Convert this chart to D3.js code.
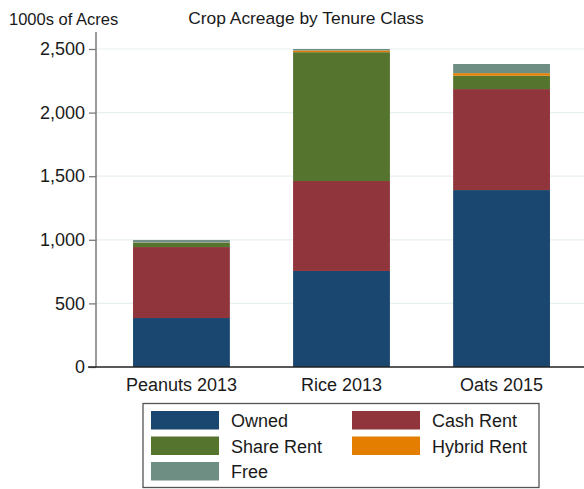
<!DOCTYPE html>
<html>
<head>
<meta charset="utf-8">
<script src="https://cdn.jsdelivr.net/npm/d3@7"></script>
<style>
  body { margin: 0; background: #fff; }
  text { font-family: "Liberation Sans", Arial, sans-serif; fill: #1a1a1a; }
</style>
</head>
<body>
<svg id="chart"></svg>
<script>
// values, 1000s of acres
const crops = ["Peanuts 2013", "Rice 2013", "Oats 2015"];
const classes = ["Owned", "Cash Rent", "Share Rent", "Hybrid Rent", "Free"];
const owned = [385, 755, 1391];
const cashRent = [558, 707, 794];
const shareRent = [32, 1013, 105];
const hybridRent = [3, 13, 20];
const free = [20, 12, 72];
const colors = ["#1a476f", "#90353b", "#55752f", "#e37e00", "#6e8e84"];
const yTicks = [0, 500, 1000, 1500, 2000, 2500];

const W = 584, H = 489;
const svg = d3.select("#chart").attr("width", W).attr("height", H);

const rows = crops.map((c, i) => ({
  crop: c,
  "Owned": owned[i], "Cash Rent": cashRent[i], "Share Rent": shareRent[i],
  "Hybrid Rent": hybridRent[i], "Free": free[i]
}));

const x = d3.scaleBand().domain(crops).range([101.5, 581.5]).paddingInner(0.395).paddingOuter(0.197);
const y = d3.scaleLinear().domain([0, 2500]).range([367, 49]);
const axisTop = 32;

// gridlines
svg.append("g")
  .selectAll("line")
  .data(yTicks.filter(d => d > 0))
  .join("line")
  .attr("x1", 96).attr("x2", W)
  .attr("y1", d => y(d)).attr("y2", d => y(d))
  .attr("stroke", "#e8f0f0").attr("stroke-width", 1.2);

// stacked bars
const stack = d3.stack().keys(classes)(rows);
const color = d3.scaleOrdinal().domain(classes).range(colors);
svg.append("g")
  .selectAll("g")
  .data(stack)
  .join("g")
  .attr("fill", d => color(d.key))
  .selectAll("rect")
  .data(d => d)
  .join("rect")
  .attr("x", d => x(d.data.crop))
  .attr("width", x.bandwidth())
  .attr("y", d => y(d[1]))
  .attr("height", d => y(d[0]) - y(d[1]));

// y axis
const yAxis = d3.axisLeft(y).tickValues(yTicks).tickSize(7).tickPadding(4).tickFormat(d3.format(","));
const ya = svg.append("g").attr("transform", "translate(96,0)").call(yAxis);
ya.select(".domain").remove();
ya.append("line").attr("x1", 0).attr("x2", 0).attr("y1", axisTop).attr("y2", 367)
  .attr("stroke", "#7a7a7a").attr("stroke-width", 1.5);
ya.selectAll(".tick line").attr("stroke", "#7a7a7a").attr("stroke-width", 1.3);
ya.selectAll(".tick text").style("font-size", "18px").attr("fill", "#1a1a1a");

// baseline
svg.append("line").attr("x1", 88).attr("x2", W).attr("y1", y(0)).attr("y2", y(0))
  .attr("stroke", "#222").attr("stroke-width", 1.3);

// category labels
svg.append("g")
  .selectAll("text")
  .data(crops)
  .join("text")
  .attr("x", d => x(d) + x.bandwidth() / 2)
  .attr("y", 391)
  .attr("text-anchor", "middle")
  .style("font-size", "18px")
  .text(d => d);

// titles
svg.append("text").attr("x", 9).attr("y", 25).style("font-size", "16.5px").text("1000s of Acres");
svg.append("text").attr("x", 306).attr("y", 24).attr("text-anchor", "middle")
  .style("font-size", "17.4px").text("Crop Acreage by Tenure Class");

// legend
const lg = svg.append("g");
lg.append("rect").attr("x", 143).attr("y", 403.5).attr("width", 396).attr("height", 84)
  .attr("fill", "#fff").attr("stroke", "#555").attr("stroke-width", 1.3);
const legendPos = [[0, 0], [1, 0], [0, 1], [1, 1], [0, 2]];
const items = lg.selectAll("g.item")
  .data(classes)
  .join("g")
  .attr("class", "item")
  .attr("transform", (d, i) => "translate(" + (151 + legendPos[i][0] * 201) + "," + (411 + legendPos[i][1] * 25.5) + ")");
items.append("rect").attr("width", 68).attr("height", 18.5).attr("fill", d => color(d));
items.append("text").attr("x", 80).attr("y", 16).style("font-size", "18px").text(d => d);
</script>
</body>
</html>
